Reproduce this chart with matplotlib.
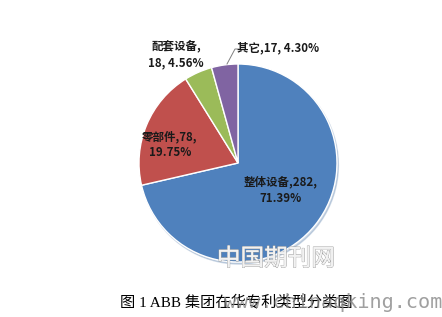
import numpy as np
import matplotlib
matplotlib.use("Agg")
import matplotlib.pyplot as plt
import matplotlib.patheffects as pe

categories = ["整体设备", "零部件", "配套设备", "其它"]
counts = [282, 78, 18, 17]
percents = ["71.39%", "19.75%", "4.56%", "4.30%"]
colors = ["#4F81BD", "#C0504D", "#9BBB59", "#8064A2"]
caption = "图 1 ABB 集团在华专利类型分类图"

W, H = 442, 317
fig = plt.figure(figsize=(W / 100, H / 100), dpi=100)
ax = fig.add_axes([0, 0, 1, 1])

cx, cy, r = 238, H - 163, 99
ax.pie(counts, colors=colors, startangle=90, counterclock=False,
       center=(cx, cy), radius=r, frame=True,
       wedgeprops=dict(edgecolor="white", linewidth=1.0),
       shadow=dict(ox=1.0, oy=-1.5, shade=0.15, alpha=0.25))
ax.set_xlim(0, W)
ax.set_ylim(0, H)
ax.set_aspect("equal")
ax.axis("off")

lab_font = dict(family=["Noto Sans CJK SC", "DejaVu Sans"], fontsize=8.3,
                fontweight="bold", color="#1a1a1a", ha="center", va="center",
                linespacing=1.3)

ax.text(281, H - 190, f"{categories[0]},{counts[0]},\n{percents[0]}", **lab_font)
ax.text(170, H - 145, f"{categories[1]},{counts[1]},\n{percents[1]}", **lab_font)
ax.text(176, H - 55, f"{categories[2]},\n{counts[2]}, {percents[2]}", **lab_font)
ax.text(278, H - 48, f"{categories[3]},{counts[3]}, {percents[3]}", **lab_font)
ax.plot([227, 235, 239], [H - 64, H - 49, H - 49], color="#808080", lw=0.7)

# watermark
ax.text(276, H - 259, "中国期刊网", family=["Noto Sans CJK SC"], fontsize=17,
        fontweight="light", color="#f2f2f2", ha="center", va="center",
        path_effects=[pe.withStroke(linewidth=0.8, foreground="#a0a0a0"),
                      pe.Normal()])

ax.text(236, H - 302, caption, family=["Liberation Serif", "Noto Sans CJK SC"],
        fontsize=11, color="black", ha="center", va="center")
ax.text(442, H - 302, "www.chinaqking.com", family=["DejaVu Sans Mono"],
        fontsize=14.5, color="#888888", alpha=0.8, ha="right", va="center")

fig.savefig("out.png", dpi=100)
